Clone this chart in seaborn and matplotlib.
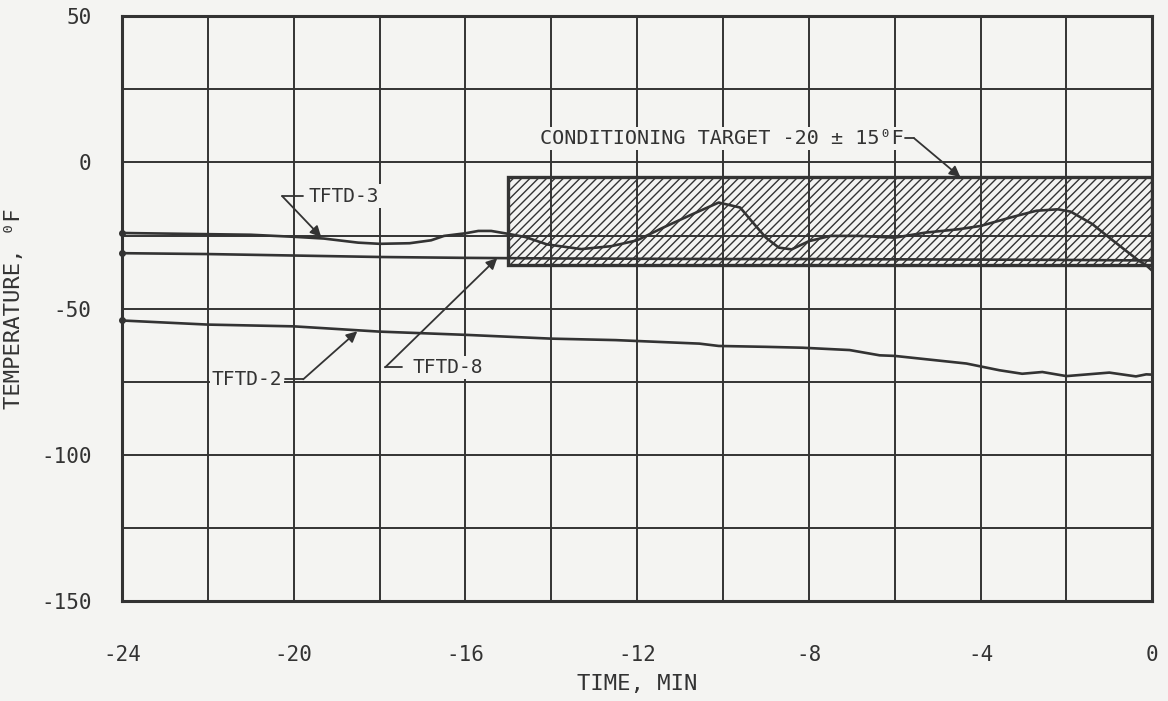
import numpy as np
import pandas as pd
import matplotlib
matplotlib.use("Agg")
import matplotlib.pyplot as plt
from matplotlib.patches import Rectangle
import seaborn as sns

# ---- data -------------------------------------------------------------
tftd3_time = [-24, -23, -22, -21, -20, -19.3, -18.5, -18, -17.3, -16.8, -16.5,
              -16, -15.7, -15.4, -15, -14.6, -14.1, -13.3, -12.6, -12, -11.4,
              -10.7, -10.1, -9.6, -9.3, -9.0, -8.7, -8.4, -8, -7.5, -6.8, -6,
              -5.3, -4.5, -4, -3.3, -2.7, -2.2, -1.9, -1.4, -1.0, -0.6, -0.3,
              -0.15, 0]
tftd3_temp = [-24.1, -24.3, -24.5, -24.7, -25.4, -26.0, -27.4, -27.8, -27.6,
              -26.6, -25.1, -24.2, -23.4, -23.4, -24.4, -25.5, -28.0, -29.6,
              -28.6, -26.6, -22.3, -17.6, -13.7, -15.4, -20.6, -25.7, -29.1,
              -29.7, -26.9, -25.1, -25.1, -25.7, -24.0, -22.8, -21.7, -18.8,
              -16.5, -16.0, -16.8, -21.0, -25.7, -30.3, -33.7, -35.0, -37.0]

tftd8_time = [-24, -22, -20, -18, -16, -14, -12, -10, -8, -6, -4, -2, 0]
tftd8_temp = [-31.0, -31.3, -31.8, -32.3, -32.6, -32.8, -32.9, -33.0, -33.0,
              -33.1, -33.2, -33.3, -33.5]

tftd2_time = [-24, -22, -20, -18, -16, -14, -12.5, -10.55, -10.1, -9.0, -8.15,
              -7.05, -6.35, -6.0, -4.33, -3.56, -3.03, -2.56, -2.0, -1.0,
              -0.38, -0.14, 0]
tftd2_temp = [-54.0, -55.4, -56.0, -57.8, -58.9, -60.2, -60.7, -61.9, -62.7,
              -63.0, -63.3, -64.1, -65.9, -66.1, -68.7, -71.0, -72.2, -71.6,
              -73.0, -71.8, -73.1, -72.4, -72.5]

target_center = -20
target_tol = 15
target_start = -15
target_end = 0

x_ticks = [-24, -20, -16, -12, -8, -4, 0]
y_ticks = [50, 0, -50, -100, -150]

series = pd.concat([
    pd.DataFrame({"sensor": "TFTD-3", "time": tftd3_time, "temp": tftd3_temp}),
    pd.DataFrame({"sensor": "TFTD-8", "time": tftd8_time, "temp": tftd8_temp}),
    pd.DataFrame({"sensor": "TFTD-2", "time": tftd2_time, "temp": tftd2_temp}),
], ignore_index=True)

# ---- style ------------------------------------------------------------
INK = "#333333"
PAPER = "#f4f4f2"

sns.set_theme(style="white")
plt.rcParams["font.family"] = ["DejaVu Sans Mono", "DejaVu Sans"]
plt.rcParams["hatch.linewidth"] = 1.0
plt.rcParams["text.color"] = INK

fig = plt.figure(figsize=(11.68, 7.01), dpi=100, facecolor=PAPER)
ax = fig.add_axes([0.1045, 0.142, 0.882, 0.835])
ax.set_facecolor(PAPER)

# target band
ax.add_patch(Rectangle((target_start, target_center - target_tol),
                       target_end - target_start, 2 * target_tol,
                       facecolor="none", edgecolor=INK, hatch="////",
                       lw=2.4, zorder=2))

# temperature traces
for name, grp in series.groupby("sensor", sort=False):
    sns.lineplot(data=grp, x="time", y="temp", color=INK, lw=1.9,
                 sort=False, estimator=None, ax=ax, zorder=3)
    ax.plot(grp["time"].iloc[0], grp["temp"].iloc[0], "o", ms=4,
            color=INK, zorder=3, clip_on=False)

# axes, grid
ax.set_xlim(-24, 0)
ax.set_ylim(-150, 50)
ax.set_xticks(x_ticks)
ax.set_xticks(np.arange(-24, 1, 2), minor=True)
ax.set_yticks(y_ticks)
ax.set_yticks(np.arange(-150, 51, 25), minor=True)
ax.set_xticklabels([str(t) for t in x_ticks])
ax.set_yticklabels([str(t) for t in y_ticks])
ax.grid(True, which="both", color=INK, lw=1.4, zorder=1)
ax.tick_params(which="both", length=0, labelsize=15, colors=INK)
ax.tick_params(axis="x", pad=31)
ax.tick_params(axis="y", pad=22)
for sp in ax.spines.values():
    sp.set_color(INK)
    sp.set_linewidth(2.2)
    sp.set_zorder(4)

ax.set_xlabel("TIME, MIN", fontsize=16, color=INK, labelpad=7)
ax.set_ylabel("TEMPERATURE, \u2070F", fontsize=16, color=INK, labelpad=12)

# labels with leader lines
box = dict(facecolor=PAPER, edgecolor="none", pad=1.5)
arrow = dict(arrowstyle="-|>", color=INK, lw=1.3, mutation_scale=16,
             shrinkA=0, shrinkB=0)


def leader(text, text_xy, ha, stub, corner, tip, size=14):
    ax.text(*text_xy, text, ha=ha, va="center", fontsize=size, color=INK,
            bbox=box, zorder=5)
    ax.plot(stub, [corner[1], corner[1]], color=INK, lw=1.3, zorder=5)
    ax.annotate("", xy=tip, xytext=corner, arrowprops=arrow, zorder=5)


leader("TFTD-3", (-19.66, -11.5), "left", [-20.27, -19.78],
       (-20.27, -11.5), (-19.36, -25.5))
leader("TFTD-2", (-20.27, -74.1), "right", [-20.2, -19.78],
       (-19.78, -74.1), (-18.52, -57.7))
leader("TFTD-8", (-17.24, -70.0), "left", [-17.87, -17.47],
       (-17.87, -70.0), (-15.26, -32.7))
leader("CONDITIONING TARGET -20 \u00b1 15\u2070F", (-5.8, 8.3), "right",
       [-5.75, -5.55], (-5.55, 8.3),
       (-4.47, target_center + target_tol), size=14.5)

fig.savefig("out.png", dpi=100, facecolor=PAPER)
